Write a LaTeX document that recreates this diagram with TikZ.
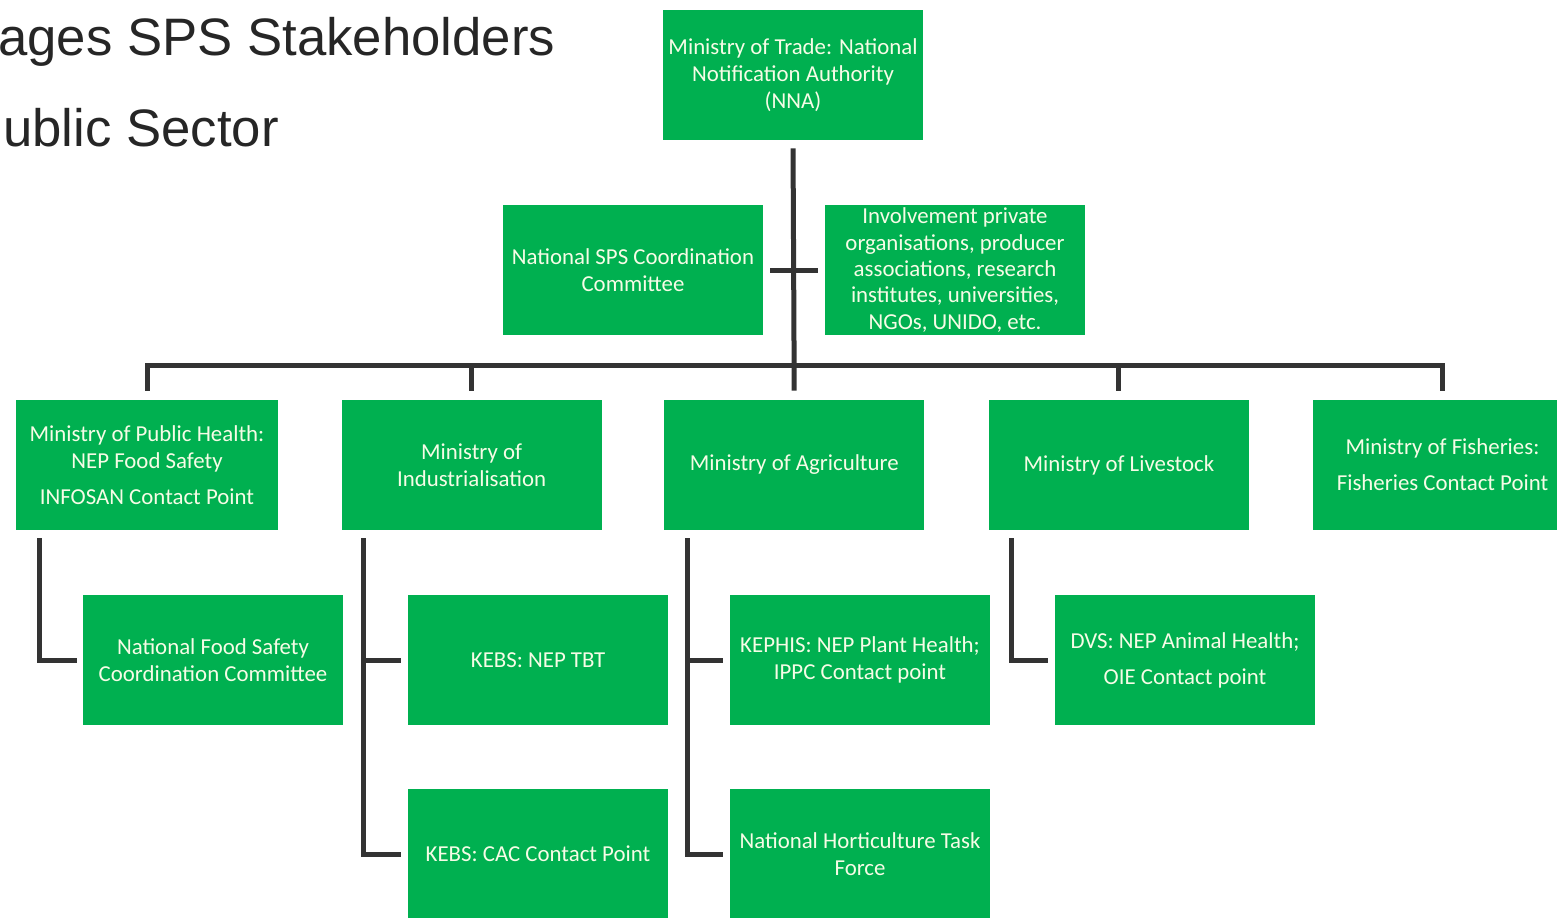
\documentclass[tikz,border=0pt]{standalone}
\usepackage{fontspec}
\setmainfont{Carlito}
\newfontfamily\titlefont{Liberation Sans}
\usetikzlibrary{positioning}
\definecolor{orggreen}{RGB}{0,176,80}
\definecolor{linegray}{RGB}{51,51,51}
\definecolor{boxtext}{RGB}{246,252,230}

\begin{document}
\begin{tikzpicture}
            [x=0.02cm, y=-0.02cm,
            font=\fontsize{13}{15.5}\selectfont,
            unit/.style={fill=orggreen, text=boxtext, minimum width=5.2cm,
            minimum height=2.6cm, inner xsep=0pt, align=center},
            link/.style={draw=linegray, line width=0.1cm},
            heading/.style={font=\titlefont\fontsize{30}{35}\selectfont,
            text=black!85, anchor=base west, inner sep=0pt}]
            \useasboundingbox (0,0) rectangle (1557,917);
            \clip (0,0) rectangle (1557,917);

            % title
            \node[heading] (head1) at (-2,55) {ages SPS Stakeholders};
            \node[heading] (head2) at (3,146) {ublic Sector};

            % top level
            \node[unit] (nna) at (793,75) {Ministry of Trade: National\\ Notification Authority\\ (NNA)};
            \node[unit] (nspscc) at (633,270) {National SPS Coordination\\ Committee};
            \node[unit, inner ysep=0pt, font=\fontsize{13}{15}\selectfont] (private) at (955,270)
                {Involvement private\\ organisations, producer\\ associations, research\\ institutes, universities,\\ NGOs, UNIDO, etc.};

            % ministries
            \node[unit, minimum width=5.24cm] (health) at (147,465)
                {Ministry of Public Health:\\ NEP Food Safety\\[5pt] INFOSAN Contact Point};
            \node[unit, right=1.26cm of health] (ind) {Ministry of\\ Industrialisation};
            \node[unit, right=1.24cm of ind] (agri) {Ministry of Agriculture};
            \node[unit, right=1.28cm of agri] (live) {Ministry of Livestock};
            \node[unit, right=1.26cm of live] (fish) {Ministry of Fisheries:\\[5pt] Fisheries Contact Point};

            % agencies
            \node[unit] (foodsafety) at (213,660) {National Food Safety\\ Coordination Committee};
            \node[unit] (tbt) at (538,660) {KEBS: NEP TBT};
            \node[unit] (cac) at (538,854) {KEBS: CAC Contact Point};
            \node[unit] (kephis) at (860,660) {KEPHIS: NEP Plant Health;\\ IPPC Contact point};
            \node[unit] (hort) at (860,854) {National Horticulture Task\\ Force};
            \node[unit] (dvs) at (1185,660) {DVS: NEP Animal Health;\\[5pt] OIE Contact point};

            % connectors
            \coordinate (hub) at (793,365);
            \draw[link, shorten <=0.16cm, shorten >=0.18cm] (nna.south) -- (agri.north);
            \draw[link, shorten <=0.14cm, shorten >=0.14cm] (nspscc.east) -- (private.west);
            \draw[link, shorten <=0.18cm, shorten >=0.18cm] (health.north) -- (health.north |- hub)
                -- (fish.north |- hub) -- (fish.north);
            \foreach \m in {ind,live}
                \draw[link, shorten >=0.18cm] (\m.north |- hub) -- (\m.north);

            \draw[link, shorten <=0.16cm, shorten >=0.12cm] ([xshift=0.48cm]health.south west) |- (foodsafety.west);
            \draw[link, shorten <=0.16cm, shorten >=0.14cm] ([xshift=0.44cm]ind.south west) |- (tbt.west);
            \draw[link, shorten <=0.16cm, shorten >=0.14cm] ([xshift=0.44cm]ind.south west) |- (cac.west);
            \draw[link, shorten <=0.16cm, shorten >=0.14cm] ([xshift=0.48cm]agri.south west) |- (kephis.west);
            \draw[link, shorten <=0.16cm, shorten >=0.14cm] ([xshift=0.48cm]agri.south west) |- (hort.west);
            \draw[link, shorten <=0.16cm, shorten >=0.14cm] ([xshift=0.46cm]live.south west) |- (dvs.west);
\end{tikzpicture}
\end{document}
